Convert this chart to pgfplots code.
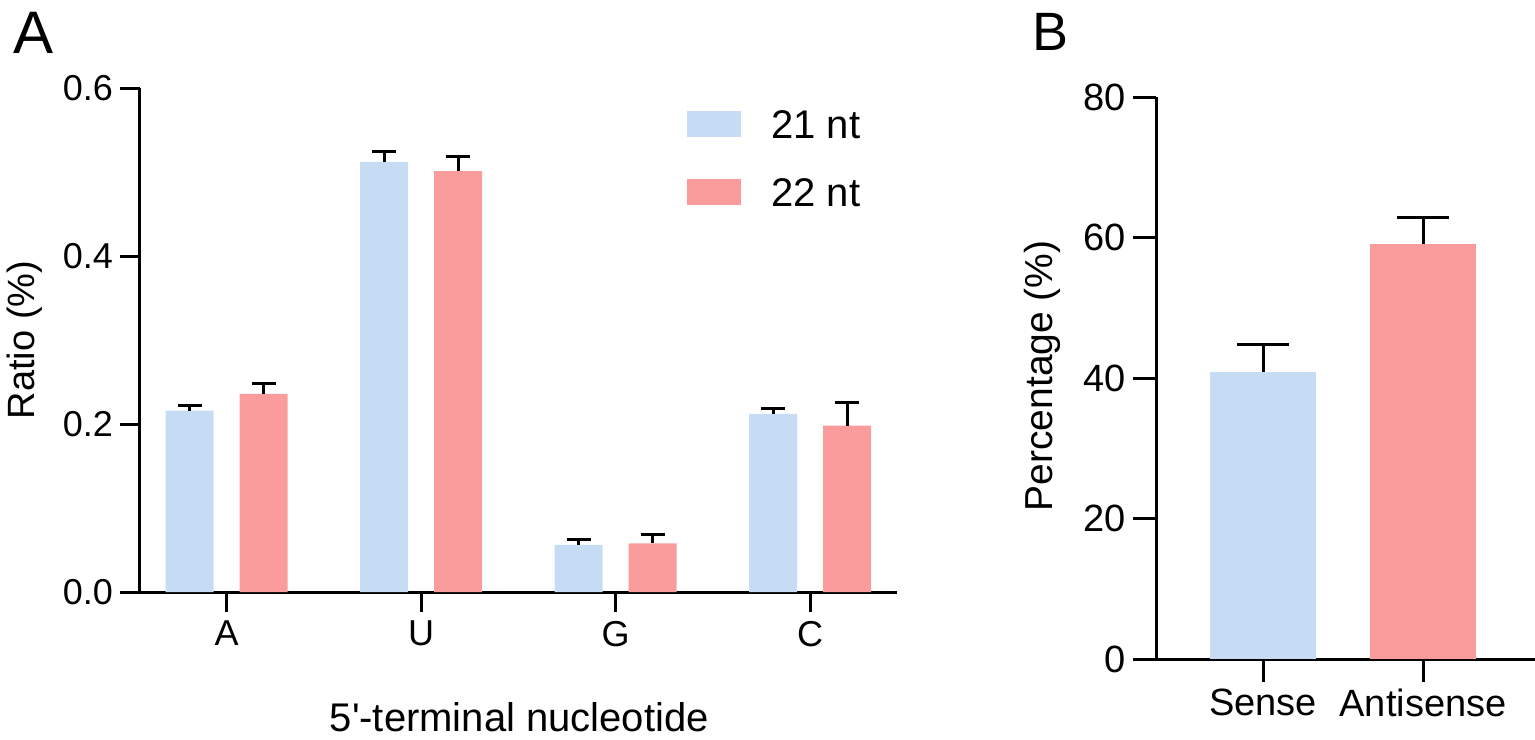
\documentclass[border=0pt]{standalone}
\usepackage{pgfplots}
\pgfplotsset{compat=1.18}
\usepackage{fontspec}
\setmainfont{Liberation Sans}
\definecolor{c21}{RGB}{198,220,245}
\definecolor{c22}{RGB}{250,156,156}
% x = category position (A=0, U=1, G=2, C=3) shifted by -/+0.19 for the two series
\pgfplotstableread{
x y e
-0.19 0.216 0.006
0.81 0.512 0.012
1.81 0.056 0.006
2.81 0.212 0.006
}\ntone
\pgfplotstableread{
x y e
0.19 0.236 0.012
1.19 0.501 0.017
2.19 0.058 0.011
3.19 0.198 0.028
}\nttwo
\pgfplotsset{
  common/.style={
    scale only axis,
    axis x line*=bottom, axis y line*=left,
    axis line style={line width=1.5pt, -},
    every tick/.style={line width=1.5pt, black},
    tick align=outside,
    clip=false,
  },
  errs/.style={
    error bars/.cd, y dir=plus, y explicit,
    error bar style={draw=black, solid, line width=1.5pt},
    error mark=|,
    error mark options={draw=black, solid, line width=1.5pt, mark size=#1},
  },
}
\begin{document}
\begin{tikzpicture}
\useasboundingbox (0,0) rectangle (767.5pt,-369.5pt);
\node[anchor=base west, inner sep=0pt, font=\fontsize{30}{30}\selectfont] at (6.5pt,-26.5pt) {A};
\node[anchor=base west, inner sep=0pt, font=\fontsize{27}{27}\selectfont] at (516pt,-25pt) {B};

\begin{axis}[common,
  at={(70pt,-296pt)}, anchor=south west,
  width=378.5pt, height=252pt,
  xmin=-0.445, xmax=3.447, ymin=0, ymax=0.6,
  major tick length=10pt,
  xtick={0,1,2,3}, xticklabels={A,U,G,C},
  ytick={0,0.2,0.4,0.6}, yticklabels={0.0,0.2,0.4,0.6},
  tick label style={font=\fontsize{18}{18}\selectfont},
  xticklabel style={yshift=-1pt},
  xlabel={5\textquotesingle-terminal nucleotide},
  ylabel={Ratio (\%)},
  xlabel style={font=\fontsize{20}{20}\selectfont, at={(axis description cs:0.501,-0.276)}, anchor=base},
  ylabel style={font=\fontsize{19}{19}\selectfont, at={(axis description cs:-0.139,0.5)}, anchor=base},
  legend style={at={(axis description cs:0.7226,0.960)}, anchor=north west, draw=none, fill=none,
    inner sep=0pt, row sep=19pt, column sep=15pt, font=\fontsize{20}{20}\selectfont,
    nodes={inner sep=0pt, text height=15pt, text depth=0pt}},
  legend cell align=left,
  legend image code/.code={\fill[#1] (0pt,-6.5pt) rectangle (27pt,6.5pt);},
]
\addplot[ybar, bar width=24pt, bar shift=0pt, fill=c21, draw=none, errs=6pt]
  table[x=x, y=y, y error=e] {\ntone};
\addlegendentry{21 nt}
\addplot[ybar, bar width=24pt, bar shift=0pt, fill=c22, draw=none, errs=6pt]
  table[x=x, y=y, y error=e] {\nttwo};
\addlegendentry{22 nt}
\end{axis}

\begin{axis}[common,
  at={(578pt,-329.5pt)}, anchor=south west,
  width=189.5pt, height=281pt,
  xmin=-0.669, xmax=1.70, ymin=0, ymax=80,
  major tick length=11.5pt,
  xtick={0,1}, xticklabels={Sense,Antisense},
  ytick={0,20,40,60,80}, yticklabels={0,20,40,60,80},
  tick label style={font=\fontsize{19}{19}\selectfont},
  ylabel={Percentage (\%)},
  ylabel style={font=\fontsize{19.5}{19.5}\selectfont, at={(axis description cs:-0.272,0.504)}, anchor=base},
]
\addplot[ybar, bar width=53pt, bar shift=0pt, fill=c21, draw=none, errs=13pt]
  coordinates {(0,40.9) +- (0,3.8)};
\addplot[ybar, bar width=53pt, bar shift=0pt, fill=c22, draw=none, errs=13pt]
  coordinates {(1,59.1) +- (0,3.8)};
\end{axis}
\end{tikzpicture}
\end{document}
